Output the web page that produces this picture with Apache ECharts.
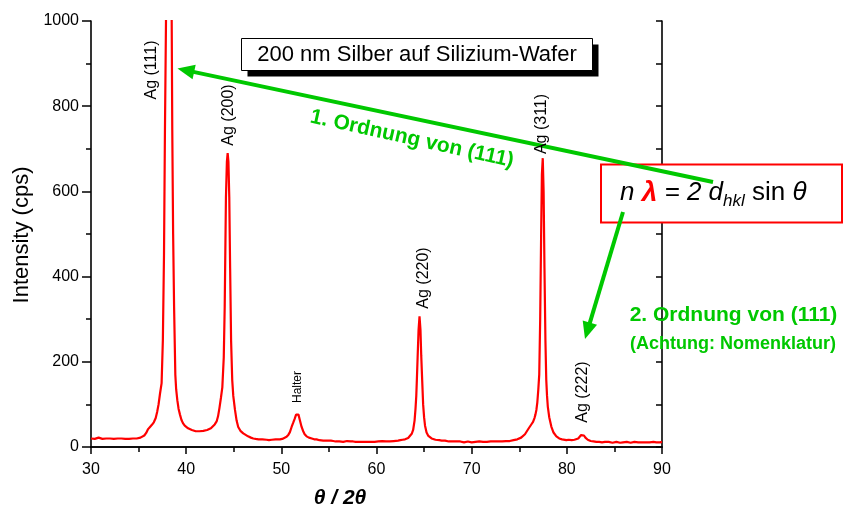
<!DOCTYPE html>
<html><head><meta charset="utf-8">
<script src="https://cdn.jsdelivr.net/npm/echarts@6/dist/echarts.min.js"></script>
<style>html,body{margin:0;padding:0;background:#fff}#c{width:845px;height:511px}</style>
</head><body><div id="c"></div>
<script>
// 2θ positions (degrees)
const twoTheta = [
30.0,30.2,30.4,30.6,30.8,31.0,31.2,31.4,31.6,31.8,32.0,32.2,32.4,32.6,32.8,33.0,33.2,33.4,33.6,33.8,34.0,34.2,34.4,34.6,34.8,35.0,
35.2,35.4,35.6,35.8,36.0,36.2,36.4,36.6,36.8,36.95,37.1,37.25,37.42,37.55,37.67,37.77,37.88,38.0,38.18,38.35,38.48,38.54,38.63,38.73,38.86,38.95,39.07,39.2,39.35,39.5,39.66,39.85,
40.0,40.2,40.4,40.6,40.8,41.0,41.2,41.4,41.6,41.8,42.0,42.2,42.4,42.6,42.8,43.0,43.2,43.35,43.5,43.65,43.8,43.95,44.05,44.18,44.28,44.36,44.44,44.53,44.62,44.72,44.84,44.95,45.13,45.3,45.47,45.7,
46.0,46.2,46.5,46.8,47.05,47.3,47.6,47.8,48.0,48.2,48.45,48.7,49.0,49.2,49.4,49.6,49.85,50.1,50.3,50.55,50.75,50.9,51.08,51.25,51.4,51.55,51.68,51.8,51.95,52.13,52.3,52.45,52.65,52.9,
53.2,53.45,53.7,54.0,54.2,54.4,54.6,54.8,55.0,55.2,55.45,55.7,55.9,56.1,56.3,56.5,56.7,56.9,57.1,57.3,57.55,57.8,58.0,58.2,58.4,58.6,58.8,59.0,59.2,59.4,59.6,59.8,
60.0,60.2,60.4,60.6,60.8,61.0,61.2,61.4,61.6,61.8,62.0,62.27,62.5,62.75,63.0,63.15,63.33,63.5,63.7,63.85,64.0,64.1,64.18,64.24,64.32,64.42,64.52,64.62,64.7,64.8,64.9,65.0,65.1,65.26,65.45,65.6,65.79,
66.0,66.2,66.4,66.6,66.84,67.0,67.2,67.4,67.6,67.8,68.0,68.2,68.4,68.6,68.8,69.0,69.2,69.4,69.6,69.8,70.0,70.2,70.4,70.6,70.8,71.0,71.2,71.4,71.6,71.8,72.0,72.2,72.4,72.6,72.8,
73.0,73.2,73.4,73.6,73.8,74.0,74.2,74.4,74.6,74.8,75.0,75.2,75.4,75.6,75.8,76.0,76.1,76.3,76.45,76.6,76.7,76.8,76.9,77.0,77.1,77.2,77.3,77.38,77.47,77.56,77.65,77.75,77.84,77.92,78.0,78.15,78.37,78.6,78.9,
79.2,79.5,79.95,80.2,80.5,80.8,81.0,81.2,81.35,81.5,81.65,81.8,81.95,82.2,82.5,82.8,83.1,83.4,83.7,84.0,84.2,84.4,84.6,84.8,85.0,85.2,85.4,85.6,85.9,86.1,86.3,86.5,86.7,86.9,
87.1,87.3,87.5,87.7,87.9,88.1,88.3,88.5,88.7,88.9,89.1,89.4,89.6,89.8,90.0
];
// Intensity (cps)
const intensity = [
20,21,19,20,22,20,19,21,20,19,20,21,19,18,20,19,20,18,19,20,19,18,20,19,20,21,
22,24,27,33,42,47,52,58,68,82,100,125,150,250,450,744,1000,1700,2600,1700,1000,744,500,330,170,135,110,90,76,64,56,50,
47,44,41,40,38,37,35,37,36,38,39,40,42,44,48,53,60,72,92,115,140,210,330,587,670,690,670,587,420,250,157,120,87,62,47,38,
32,28,25,22,20,19,18,17,18,16,17,16,17,16,18,17,18,19,21,24,29,35,47,57,66,76,80,76,63,47,37,30,25,22,
20,18,18,16,17,15,16,15,14,15,14,13,14,13,14,12,13,14,12,13,13,12,13,12,13,12,13,12,13,12,14,12,
13,13,12,14,13,13,14,13,14,14,15,15,16,17,18,19,21,25,31,40,62,90,120,157,210,275,307,275,215,157,100,70,50,34,26,22,20,
18,17,16,16,15,14,15,14,13,14,13,12,13,12,13,12,11,12,13,12,11,12,12,11,13,12,12,13,12,12,13,12,13,12,13,
14,13,13,14,13,14,15,16,17,18,20,22,25,30,37,44,48,54,59,68,76,87,105,134,170,300,500,640,678,600,420,250,157,120,95,70,48,34,25,
20,18,16,17,16,17,17,20,24,28,31,27,22,17,14,13,12,12,11,12,11,12,11,10,11,12,11,10,11,11,12,11,10,11,
12,11,11,12,11,10,11,12,11,11,12,11,12,11,12
];
const xRange = [30, 90];
const yRange = [0, 1000];
const peakNames = ['Ag (111)', 'Ag (200)', 'Halter', 'Ag (220)', 'Ag (311)', 'Ag (222)'];
const titleText = '200 nm Silber auf Silizium-Wafer';
const firstOrder = '1. Ordnung von (111)';
const secondOrder = '2. Ordnung von (111)';
const secondNote = '(Achtung: Nomenklatur)';

const FF = '"Liberation Sans", Arial, sans-serif';
const GREEN = '#00c800';
const chart = echarts.init(document.getElementById('c'), null, {renderer: 'canvas'});

function rtext(t, x, y, opt) {
  opt = opt || {};
  return {
    type: 'text', x: x, y: y, rotation: opt.rot || 0, z: opt.z || 100,
    style: {
      text: t, fill: opt.fill || '#000',
      font: (opt.style || 'normal') + ' ' + (opt.weight || 'normal') + ' ' + (opt.size || 16) + 'px ' + (opt.family || FF),
      align: opt.align || 'center', verticalAlign: opt.valign || 'middle',
      textAlign: opt.align || 'center', textVerticalAlign: opt.valign || 'middle'
    }
  };
}
function arrow(x1, y1, x2, y2, w, hl, hw) {
  const dx = x2 - x1, dy = y2 - y1, L = Math.hypot(dx, dy);
  const ux = dx / L, uy = dy / L, px = -uy, py = ux;
  const bx = x2 - ux * hl, by = y2 - uy * hl;
  return [
    {type: 'line', z: 90, shape: {x1: x1, y1: y1, x2: bx + ux * 2, y2: by + uy * 2}, style: {stroke: GREEN, lineWidth: w}},
    {type: 'polygon', z: 90, shape: {points: [[x2, y2], [bx + px * hw, by + py * hw], [bx - px * hw, by - py * hw]]}, style: {fill: GREEN}}
  ];
}

// formula pieces measured with canvas
const mctx = document.createElement('canvas').getContext('2d');
const FS = 26;
const fparts = [
  {t: 'n', f: 'italic normal ' + FS + 'px ' + FF, c: '#000', dy: 0},
  {t: ' ', f: 'normal normal ' + FS + 'px ' + FF, c: '#000', dy: 0},
  {t: 'λ', f: 'italic bold ' + (FS + 2) + 'px ' + FF, c: '#ff0000', dy: 0},
  {t: ' = 2 ', f: 'italic normal ' + FS + 'px ' + FF, c: '#000', dy: 0},
  {t: 'd', f: 'italic normal ' + FS + 'px ' + FF, c: '#000', dy: 0},
  {t: 'hkl', f: 'italic normal 17px ' + FF, c: '#000', dy: 8},
  {t: ' sin ', f: 'normal normal ' + FS + 'px ' + FF, c: '#000', dy: 0},
  {t: 'θ', f: 'italic normal ' + FS + 'px ' + FF, c: '#000', dy: 0}
];
const formulaEls = [];
let fx = 620;
fparts.forEach(p => {
  mctx.font = p.f;
  formulaEls.push({type: 'text', x: fx, y: 193 + p.dy, z: 120,
    style: {text: p.t, fill: p.c, font: p.f, align: 'left', verticalAlign: 'middle', textAlign: 'left', textVerticalAlign: 'middle'}});
  fx += mctx.measureText(p.t).width;
});

const graphics = [].concat(
  [
    // title box with shadow
    {type: 'rect', z: 80, shape: {x: 247.5, y: 44.5, width: 351, height: 32}, style: {fill: '#000'}},
    {type: 'rect', z: 81, shape: {x: 241.5, y: 38.5, width: 351, height: 32}, style: {fill: '#fff', stroke: '#000', lineWidth: 1}},
    rtext(titleText, 417, 55, {size: 22, z: 82}),
    // formula box
    {type: 'rect', z: 85, shape: {x: 601, y: 164.5, width: 241, height: 58}, style: {fill: '#fff', stroke: '#ff0000', lineWidth: 2}},
    // axis titles
    rtext('Intensity (cps)', 22, 235, {size: 22, rot: Math.PI / 2}),
    rtext('θ / 2θ', 340, 498, {size: 21, style: 'italic', weight: 'bold'}),
    // peak labels
    rtext(peakNames[0], 152, 70, {size: 16, rot: Math.PI / 2}),
    rtext(peakNames[1], 228.5, 115, {size: 16, rot: Math.PI / 2}),
    rtext(peakNames[2], 298, 387, {size: 12, rot: Math.PI / 2}),
    rtext(peakNames[3], 424, 278, {size: 16, rot: Math.PI / 2}),
    rtext(peakNames[4], 541.5, 124, {size: 16, rot: Math.PI / 2}),
    rtext(peakNames[5], 583, 392, {size: 16, rot: Math.PI / 2}),
    // green annotations
    rtext(firstOrder, 412, 139, {size: 21, weight: 'bold', fill: GREEN, rot: -12.5 * Math.PI / 180}),
    rtext(secondOrder, 733.5, 315, {size: 21, weight: 'bold', fill: GREEN}),
    rtext(secondNote, 733, 344, {size: 18, weight: 'bold', fill: GREEN})
  ],
  arrow(713, 182, 177.5, 68.5, 4, 17, 7.5),
  arrow(623, 212, 585, 339, 4, 17, 7.5),
  formulaEls
);

const axisLine = {show: true, lineStyle: {color: '#000', width: 1.6}};
chart.setOption({
  animation: false,
  backgroundColor: '#fff',
  grid: {left: 91, right: 183, top: 21, bottom: 64, containLabel: false},
  xAxis: [
    {type: 'value', min: xRange[0], max: xRange[1], interval: 10, position: 'bottom',
     axisLine: axisLine, splitLine: {show: false},
     axisTick: {show: true, inside: false, length: 7, lineStyle: {color: '#000', width: 1.5}},
     minorTick: {show: true, splitNumber: 2, length: 4, lineStyle: {color: '#000', width: 1.5}},
     axisLabel: {color: '#000', fontSize: 16, fontFamily: FF, margin: 15}},
    {type: 'value', min: xRange[0], max: xRange[1], interval: 5, position: 'top',
     axisLine: axisLine, splitLine: {show: false},
     axisTick: {show: true, inside: true, length: 5, lineStyle: {color: '#000', width: 1.5}},
     axisLabel: {show: false}}
  ],
  yAxis: [
    {type: 'value', min: yRange[0], max: yRange[1], interval: 200, position: 'left',
     axisLine: axisLine, splitLine: {show: false},
     axisTick: {show: true, inside: false, length: 9, lineStyle: {color: '#000', width: 1.5}},
     minorTick: {show: true, splitNumber: 2, length: 5, lineStyle: {color: '#000', width: 1.5}},
     axisLabel: {color: '#000', fontSize: 16, fontFamily: FF, margin: 12, formatter: v => String(v)}},
    {type: 'value', min: yRange[0], max: yRange[1], interval: 100, position: 'right',
     axisLine: axisLine, splitLine: {show: false},
     axisTick: {show: true, inside: true, length: 6, lineStyle: {color: '#000', width: 1.5}},
     axisLabel: {show: false}}
  ],
  series: [{
    type: 'line', xAxisIndex: 0, yAxisIndex: 0, showSymbol: false, symbol: 'none',
    clip: true, smooth: false,
    lineStyle: {color: '#ff0000', width: 2.2},
    data: twoTheta.map((x, i) => [x, intensity[i]])
  }],
  graphic: {elements: graphics}
});
</script></body></html>
